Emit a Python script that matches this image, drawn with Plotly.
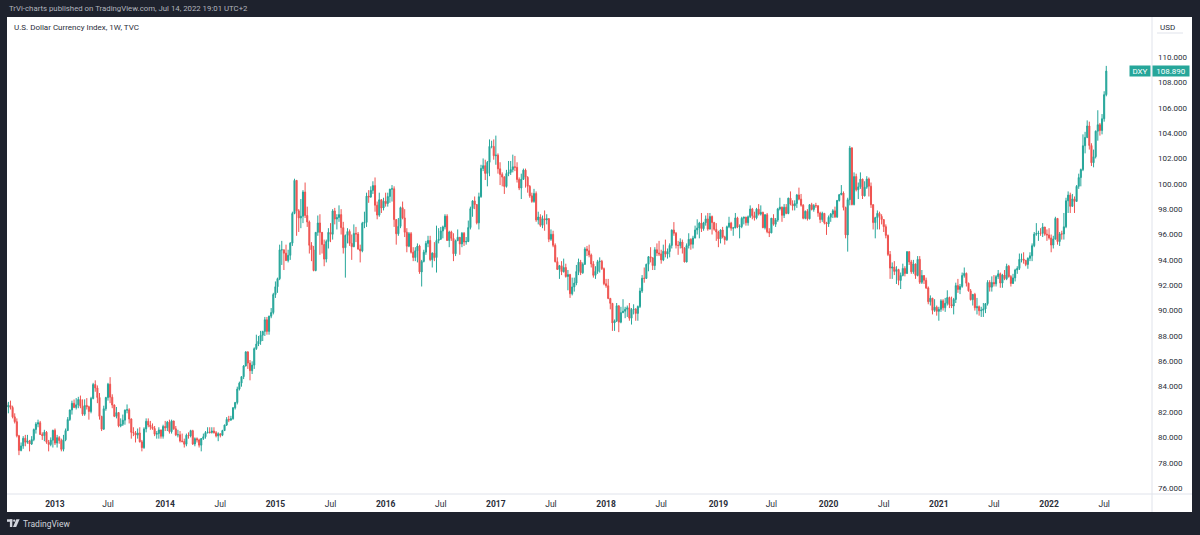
import plotly.graph_objects as go
import pandas as pd

# ---------------- weekly DXY data (Mon-dated weeks) -------------
first_open = 82.70

c2012 = [82.41, 82.52, 82.36, 81.62, 81.24, 80.13, 78.97, 79.33, 79.93, 79.62, 79.73, 79.48, 79.83, 80.62, 81.05, 81.16, 80.23, 80.14, 80.41, 79.62, 79.44, 79.78]
h2012 = [83.20, 82.80, 82.90, 82.50, 81.90, 81.50, 80.20, 79.60, 80.10, 80.20, 80.20, 79.80, 80.10, 80.70, 81.20, 81.40, 81.30, 80.40, 80.60, 80.50, 79.80, 80.00]
l2012 = [82.20, 81.90, 82.20, 81.50, 81.10, 80.00, 78.60, 78.90, 79.10, 79.30, 79.50, 78.90, 79.40, 79.70, 80.30, 80.80, 80.20, 79.80, 79.70, 79.50, 78.90, 79.30]

c2013 = [80.56, 79.55, 79.98, 79.75, 79.06, 79.81, 80.54, 81.41, 82.16, 82.69, 82.36, 82.57, 82.99, 82.46, 81.83, 82.52, 82.42, 82.04, 83.07, 84.17, 83.90, 83.15, 81.66, 80.65, 82.26, 83.14, 84.20, 83.17, 82.55, 81.66, 81.96, 80.91, 81.03, 81.36, 82.15, 82.18, 81.45, 80.40, 80.36, 80.18, 80.35, 79.65, 79.19, 80.67, 81.27, 80.97, 80.84, 80.70, 80.25, 80.30, 80.59, 80.09]
h2013 = [80.60, 80.70, 80.20, 80.10, 79.90, 80.20, 80.70, 81.60, 82.20, 82.90, 82.99, 83.10, 83.20, 83.30, 83.00, 83.00, 83.10, 82.50, 83.20, 84.30, 84.50, 84.10, 83.50, 81.70, 82.50, 83.20, 84.30, 84.75, 83.40, 82.60, 82.40, 82.00, 81.50, 81.80, 82.20, 82.60, 82.30, 81.50, 80.80, 80.50, 80.70, 80.80, 79.80, 80.80, 81.50, 81.50, 81.30, 81.10, 80.90, 80.50, 80.80, 80.60]
l2013 = [79.20, 79.40, 79.20, 79.50, 78.90, 78.90, 79.70, 80.50, 81.30, 81.80, 82.30, 82.20, 82.30, 82.30, 81.70, 81.70, 82.20, 81.40, 81.90, 83.00, 83.60, 82.70, 81.40, 80.50, 80.60, 82.10, 82.90, 82.70, 82.30, 81.60, 81.50, 80.80, 80.80, 80.90, 81.00, 81.90, 81.10, 79.90, 80.10, 79.60, 79.90, 79.60, 78.90, 79.10, 80.40, 80.80, 80.60, 80.60, 80.10, 79.90, 79.90, 79.90]

c2014 = [80.86, 80.76, 81.20, 80.45, 81.30, 80.68, 80.20, 80.21, 79.72, 79.68, 79.46, 80.17, 80.12, 80.53, 79.48, 79.90, 79.80, 79.39, 79.91, 80.05, 80.38, 80.42, 80.39, 80.50, 80.37, 80.12, 80.29, 80.17, 80.54, 80.98, 81.42, 81.37, 81.47, 82.33, 82.75, 83.81, 84.28, 84.79, 85.63, 86.74, 85.86, 85.26, 85.70, 87.00, 87.36, 87.58, 88.06, 88.36, 89.28, 88.36, 89.56, 89.85]
h2014 = [81.00, 81.30, 81.30, 81.40, 81.40, 81.30, 80.90, 80.60, 80.50, 80.30, 79.90, 80.30, 80.40, 80.60, 80.60, 80.00, 80.00, 79.90, 79.95, 80.30, 80.50, 80.80, 80.80, 80.80, 80.80, 80.50, 80.40, 80.30, 80.60, 81.00, 81.60, 81.70, 81.70, 82.40, 82.80, 84.00, 84.40, 84.80, 85.70, 86.80, 86.80, 86.10, 86.00, 87.10, 88.10, 88.00, 88.40, 88.40, 89.50, 89.50, 89.60, 90.20]
l2014 = [79.90, 80.50, 80.50, 80.30, 80.30, 80.60, 80.10, 80.00, 79.60, 79.60, 79.20, 79.30, 79.90, 80.00, 79.40, 79.30, 79.60, 79.20, 78.90, 79.80, 79.90, 80.30, 80.30, 80.30, 80.30, 80.00, 79.70, 80.00, 80.10, 80.50, 80.90, 81.20, 81.30, 81.40, 82.20, 82.60, 83.70, 84.00, 84.60, 85.60, 85.40, 84.50, 85.00, 85.40, 86.90, 87.20, 87.30, 87.60, 88.00, 88.10, 88.10, 89.40]

c2015 = [91.27, 91.88, 92.52, 94.79, 94.80, 94.53, 93.95, 94.36, 95.32, 97.66, 100.27, 97.87, 97.31, 97.44, 99.35, 97.50, 96.99, 95.15, 94.79, 93.16, 96.17, 96.91, 96.17, 95.21, 94.06, 95.45, 96.17, 96.02, 97.86, 97.22, 97.34, 97.57, 96.54, 94.96, 95.93, 96.24, 95.30, 95.04, 96.09, 96.04, 94.85, 94.71, 96.89, 96.96, 99.03, 98.96, 99.48, 99.86, 98.31, 97.53, 98.74, 98.09, 98.63]
h2015 = [91.40, 92.30, 92.60, 95.20, 95.50, 94.80, 95.20, 94.80, 95.40, 97.80, 100.40, 100.30, 98.00, 98.80, 99.50, 100.10, 98.20, 97.10, 95.40, 95.10, 96.20, 97.50, 97.60, 96.20, 95.60, 95.60, 96.50, 96.90, 98.00, 98.10, 97.60, 98.30, 98.00, 97.00, 96.00, 96.50, 96.40, 96.00, 96.80, 96.60, 96.20, 95.20, 97.00, 97.80, 99.30, 99.50, 99.80, 100.20, 100.50, 98.60, 99.30, 98.80, 98.90]
l2015 = [89.70, 91.00, 91.40, 92.40, 93.60, 93.20, 93.90, 93.80, 94.00, 95.10, 97.60, 95.90, 96.20, 96.50, 96.90, 97.30, 96.60, 94.50, 93.90, 93.10, 93.10, 95.90, 94.40, 94.50, 93.50, 93.80, 94.90, 95.40, 95.60, 96.80, 96.40, 97.00, 96.00, 94.50, 92.60, 95.30, 95.10, 94.00, 95.00, 95.40, 94.80, 93.80, 94.60, 96.50, 96.60, 98.50, 98.90, 99.20, 97.80, 97.20, 97.40, 97.70, 97.90]

c2016 = [98.44, 99.00, 99.58, 99.61, 97.18, 96.06, 96.64, 98.12, 97.31, 96.18, 95.08, 96.07, 94.60, 94.19, 94.72, 95.09, 93.05, 93.88, 94.61, 95.30, 95.53, 94.02, 94.53, 94.18, 95.53, 95.62, 96.28, 96.60, 97.45, 95.53, 96.20, 95.70, 94.48, 95.51, 95.78, 95.26, 96.10, 95.41, 95.45, 96.55, 98.04, 98.65, 98.36, 96.92, 98.98, 101.21, 101.43, 100.82, 101.69, 102.95, 102.95, 102.21]
h2016 = [99.30, 99.30, 99.60, 99.90, 99.80, 97.20, 97.30, 98.20, 98.60, 98.00, 96.50, 96.20, 96.20, 95.00, 95.00, 95.30, 95.20, 94.00, 94.80, 95.50, 95.90, 95.90, 94.60, 95.40, 96.70, 96.50, 96.60, 96.70, 97.60, 97.60, 96.30, 96.30, 96.10, 95.60, 96.40, 95.80, 96.20, 96.20, 95.80, 97.10, 98.20, 98.70, 99.00, 98.40, 99.30, 101.50, 102.00, 101.90, 101.80, 103.50, 103.40, 103.50]
l2016 = [98.20, 98.20, 98.50, 98.60, 96.60, 95.20, 95.90, 96.50, 97.20, 95.80, 94.60, 95.00, 94.50, 93.90, 93.90, 93.80, 92.90, 91.90, 93.80, 94.40, 95.00, 93.90, 93.40, 93.90, 93.00, 95.30, 95.60, 95.70, 96.40, 95.50, 95.00, 95.50, 93.90, 94.30, 95.50, 94.40, 95.00, 95.10, 95.20, 95.40, 96.40, 97.40, 98.00, 96.80, 96.40, 98.90, 101.00, 100.30, 99.80, 100.60, 102.80, 101.90]

c2017 = [102.26, 101.18, 100.74, 100.53, 99.79, 100.81, 100.90, 101.12, 101.34, 101.30, 100.34, 99.67, 100.35, 101.08, 100.51, 99.80, 99.05, 98.61, 99.24, 97.15, 97.38, 96.73, 97.25, 97.15, 97.25, 95.63, 96.02, 95.15, 93.86, 93.25, 93.54, 93.07, 93.40, 92.69, 92.84, 91.33, 91.87, 92.17, 93.08, 93.82, 92.98, 93.65, 94.86, 94.72, 94.39, 93.68, 92.78, 93.09, 93.86, 93.89, 93.31, 92.12]
h2017 = [103.80, 102.40, 101.70, 100.90, 100.60, 101.10, 101.80, 101.80, 102.30, 102.20, 101.70, 100.50, 100.80, 101.20, 101.20, 100.60, 99.90, 99.30, 99.60, 99.40, 97.80, 97.60, 97.50, 97.90, 97.60, 97.30, 96.40, 96.30, 95.30, 94.20, 93.60, 93.90, 94.10, 93.70, 93.20, 92.90, 92.60, 92.60, 93.60, 94.10, 94.00, 93.80, 95.00, 95.10, 95.20, 94.50, 93.90, 93.50, 94.00, 94.20, 94.00, 93.40]
l2017 = [101.50, 100.80, 99.90, 99.80, 99.20, 99.70, 100.60, 100.70, 100.90, 101.00, 100.10, 99.50, 98.80, 100.30, 99.70, 99.30, 98.90, 98.50, 98.50, 97.00, 96.80, 96.60, 96.50, 96.30, 96.80, 95.40, 95.50, 95.00, 93.80, 93.20, 92.50, 92.80, 93.00, 92.60, 91.60, 91.00, 91.20, 91.50, 92.00, 92.80, 92.80, 92.90, 93.60, 94.30, 94.20, 93.40, 92.60, 92.50, 92.90, 93.00, 93.20, 92.00]

c2018 = [91.96, 90.96, 90.57, 89.03, 89.19, 90.38, 89.09, 89.84, 89.95, 90.11, 90.22, 89.40, 90.09, 90.11, 89.78, 90.32, 91.55, 92.55, 92.54, 93.65, 94.25, 94.16, 93.55, 94.80, 94.54, 94.47, 94.00, 94.68, 94.45, 94.66, 95.14, 96.35, 96.10, 95.15, 95.14, 95.41, 94.93, 93.84, 95.13, 95.62, 95.23, 95.72, 96.36, 96.52, 96.90, 96.46, 96.93, 97.23, 96.43, 97.42, 96.94, 96.41]
h2018 = [92.50, 92.50, 91.00, 90.60, 89.30, 90.60, 90.40, 90.30, 90.90, 90.30, 90.40, 90.60, 90.20, 90.50, 90.20, 90.40, 91.80, 92.80, 93.40, 93.70, 94.30, 95.00, 94.20, 95.00, 95.30, 95.50, 94.80, 95.20, 95.60, 94.90, 95.30, 96.40, 96.98, 96.20, 95.50, 95.70, 95.60, 95.00, 95.30, 96.10, 95.70, 95.90, 96.70, 97.20, 97.00, 97.70, 97.00, 97.50, 97.70, 97.70, 97.50, 97.00]
l2018 = [91.80, 90.90, 90.10, 88.40, 88.40, 89.10, 88.30, 89.00, 89.80, 89.40, 89.50, 89.20, 88.90, 89.70, 89.20, 89.20, 90.20, 91.40, 92.20, 92.50, 93.10, 93.80, 93.20, 93.20, 94.30, 94.30, 93.70, 93.90, 94.20, 94.10, 94.20, 94.90, 95.90, 94.90, 94.40, 94.90, 94.50, 93.80, 93.80, 94.90, 94.80, 94.90, 95.70, 96.00, 95.70, 96.20, 96.30, 96.70, 96.30, 96.40, 96.00, 96.30]

c2019 = [96.20, 95.66, 96.36, 95.81, 95.58, 96.61, 96.90, 96.50, 96.52, 97.31, 96.60, 96.63, 97.28, 97.37, 96.93, 97.40, 98.01, 97.49, 97.32, 98.00, 97.61, 97.75, 96.54, 97.56, 96.22, 96.13, 97.29, 96.81, 97.14, 98.02, 98.16, 97.51, 98.15, 97.66, 98.87, 98.40, 98.26, 98.44, 99.12, 98.79, 98.31, 97.28, 97.83, 97.24, 98.35, 97.98, 98.28, 98.27, 97.70, 97.18, 97.67, 96.92]
h2019 = [96.90, 96.30, 96.40, 96.60, 95.90, 96.70, 97.40, 97.00, 96.60, 97.70, 97.40, 96.80, 97.40, 97.40, 97.40, 97.50, 98.30, 98.10, 97.80, 98.10, 98.40, 98.30, 97.80, 97.60, 97.70, 96.50, 97.30, 97.60, 97.30, 98.10, 98.90, 98.20, 98.40, 98.40, 98.90, 99.40, 98.70, 98.70, 99.20, 99.70, 99.20, 98.40, 97.90, 98.00, 98.40, 98.50, 98.40, 98.50, 98.30, 97.80, 97.80, 97.70]
l2019 = [95.50, 95.00, 95.30, 95.70, 95.20, 95.50, 96.50, 96.30, 95.90, 96.50, 96.50, 95.70, 96.50, 96.80, 96.70, 96.70, 97.30, 97.20, 97.10, 97.20, 97.50, 97.50, 96.50, 96.40, 96.10, 95.80, 96.10, 96.70, 96.60, 97.00, 97.90, 97.00, 97.30, 97.60, 97.60, 98.30, 97.90, 97.90, 98.10, 98.70, 98.20, 97.20, 97.20, 97.10, 97.20, 97.90, 97.80, 98.10, 97.40, 96.90, 97.00, 96.80]

c2020 = [96.84, 97.36, 97.61, 97.87, 97.39, 98.69, 99.14, 99.27, 98.13, 95.97, 98.75, 102.82, 98.36, 100.57, 99.53, 99.76, 100.37, 99.05, 99.73, 100.38, 99.81, 98.35, 96.94, 97.33, 97.67, 97.43, 97.18, 96.62, 95.93, 94.43, 93.35, 93.43, 93.09, 93.24, 92.38, 92.77, 93.33, 92.93, 94.64, 93.84, 93.06, 93.68, 92.77, 94.04, 92.23, 92.76, 92.39, 91.79, 90.70, 90.98, 90.02, 90.27, 89.94]
h2020 = [97.00, 97.50, 97.70, 98.00, 98.20, 98.70, 99.20, 99.90, 99.40, 98.20, 98.90, 102.99, 102.90, 100.90, 100.80, 100.10, 100.90, 100.40, 100.20, 100.60, 100.50, 100.10, 98.40, 97.40, 97.90, 97.80, 97.60, 97.20, 96.80, 96.00, 94.70, 93.80, 93.90, 93.50, 93.30, 93.00, 93.70, 93.50, 94.70, 94.70, 94.00, 94.00, 93.70, 94.30, 94.30, 93.20, 92.80, 92.60, 91.90, 91.20, 91.00, 90.90, 90.40]
l2020 = [95.97, 96.60, 97.00, 97.30, 97.30, 97.30, 98.60, 99.10, 97.90, 95.70, 94.65, 98.30, 98.30, 98.30, 99.40, 98.80, 99.60, 98.80, 99.00, 99.60, 99.00, 98.10, 96.40, 95.70, 96.40, 96.40, 96.80, 96.20, 95.70, 94.30, 92.50, 92.50, 92.80, 92.10, 92.00, 91.70, 92.70, 92.70, 92.90, 93.60, 92.90, 92.90, 92.50, 92.70, 92.10, 92.10, 92.10, 91.70, 90.50, 90.40, 89.70, 89.90, 89.60]

c2021 = [90.10, 90.77, 90.22, 90.58, 91.03, 90.48, 90.36, 90.88, 91.97, 91.67, 91.91, 92.77, 92.94, 92.16, 91.56, 90.86, 91.28, 90.22, 90.31, 89.99, 90.03, 90.13, 90.55, 92.23, 91.85, 92.22, 92.11, 92.68, 92.90, 92.17, 92.80, 92.52, 93.50, 92.68, 92.14, 92.58, 93.20, 93.33, 94.04, 94.07, 93.96, 93.64, 94.12, 94.32, 95.12, 96.03, 96.07, 96.12, 96.10, 96.59, 96.03, 95.97]
h2021 = [90.30, 90.90, 90.90, 91.00, 91.60, 91.10, 91.10, 91.00, 92.20, 92.50, 92.10, 93.00, 93.40, 93.00, 92.20, 91.70, 91.30, 91.40, 91.00, 90.40, 90.30, 90.60, 90.60, 92.40, 92.40, 92.70, 92.80, 92.80, 93.20, 93.00, 92.90, 93.20, 93.70, 93.60, 92.80, 92.90, 93.30, 93.50, 94.50, 94.50, 94.60, 94.00, 94.20, 94.60, 95.30, 96.20, 96.90, 96.30, 96.50, 96.90, 96.60, 96.40]
l2021 = [89.20, 89.90, 90.00, 89.90, 90.40, 90.20, 90.20, 89.70, 90.60, 91.40, 91.30, 91.80, 92.60, 91.90, 91.50, 90.80, 90.40, 90.00, 89.70, 89.60, 89.50, 89.50, 89.80, 90.40, 91.50, 91.50, 91.90, 91.90, 92.50, 91.80, 91.80, 92.40, 92.40, 92.60, 91.90, 92.10, 92.30, 92.90, 93.20, 93.80, 93.70, 93.50, 93.30, 93.90, 93.90, 95.00, 95.90, 95.50, 95.90, 95.80, 95.90, 95.50]

c2022 = [95.73, 95.17, 95.64, 97.27, 95.44, 96.05, 96.04, 96.61, 98.66, 99.11, 98.22, 98.81, 98.61, 99.80, 100.49, 101.12, 103.00, 103.66, 104.56, 103.02, 101.66, 102.14, 104.15, 104.66, 104.20, 105.13, 107.03, 108.89]
h2022 = [96.50, 96.00, 95.90, 97.40, 97.30, 96.20, 96.30, 97.70, 98.90, 99.40, 99.30, 99.20, 99.00, 99.90, 100.80, 101.20, 103.90, 104.10, 105.00, 104.90, 103.20, 102.70, 104.20, 105.80, 104.80, 105.50, 107.30, 109.30]
l2022 = [95.60, 94.60, 94.90, 95.60, 95.20, 95.10, 95.60, 95.60, 96.50, 97.70, 97.70, 98.20, 97.70, 98.60, 99.60, 99.80, 101.00, 102.40, 103.60, 102.70, 101.40, 101.30, 102.00, 103.40, 103.80, 103.90, 104.90, 106.90]

year_tick_dates = ["2013-01-07", "2014-01-06", "2015-01-05", "2016-01-04", "2017-01-02",
                   "2018-01-01", "2019-01-07", "2020-01-06", "2021-01-04", "2022-01-03"]
year_tick_text = ["2013", "2014", "2015", "2016", "2017", "2018", "2019", "2020", "2021", "2022"]
jul_tick_dates = ["2013-07-01", "2014-07-07", "2015-07-06", "2016-07-04", "2017-07-03",
                  "2018-07-02", "2019-07-01", "2020-07-06", "2021-07-05", "2022-07-04"]
price_ticks = [76, 78, 80, 82, 84, 86, 88, 90, 92, 94, 96, 98, 100, 102, 104, 106, 108, 110]
last_price = 108.89

# ---------------- assemble ----------------
closes = c2012 + c2013 + c2014 + c2015 + c2016 + c2017 + c2018 + c2019 + c2020 + c2021 + c2022
highs = h2012 + h2013 + h2014 + h2015 + h2016 + h2017 + h2018 + h2019 + h2020 + h2021 + h2022
lows = l2012 + l2013 + l2014 + l2015 + l2016 + l2017 + l2018 + l2019 + l2020 + l2021 + l2022
opens = [first_open] + closes[:-1]   # weekly open = prior week's close
dates = pd.date_range("2012-07-30", periods=len(closes), freq="7D")

UP = "#26a69a"
DOWN = "#ef5350"
DARK = "#1e222d"
TXT = "#131722"
AXT = "#2a2e39"
SEP = "#e0e3eb"
FONT = "Roboto"

W, H = 1200, 535
L, R, T, B = 7, 48, 17, 41
PW, PH = W - L - R, H - T - B


def px(x):
    return (x - L) / PW


def py(y):
    return (H - B - y) / PH


fig = go.Figure()
fig.add_trace(go.Candlestick(
    x=dates, open=opens, high=highs, low=lows, close=closes,
    increasing=dict(line=dict(color=UP, width=1), fillcolor=UP),
    decreasing=dict(line=dict(color=DOWN, width=1), fillcolor=DOWN),
    whiskerwidth=0, hoverinfo="skip", name="DXY",
))

tickvals = year_tick_dates + jul_tick_dates
ticktext = ["<b>%s</b>" % t for t in year_tick_text] + ["Jul"] * len(jul_tick_dates)

LOGO = "#d1d4dc"
shapes = [
    # white chart panel
    dict(type="rect", xref="paper", yref="paper", x0=px(7), x1=px(1192), y0=py(512), y1=py(17),
         fillcolor="white", line=dict(width=0), layer="below"),
    # price-axis separator
    dict(type="line", xref="paper", yref="paper", x0=px(1152), x1=px(1152), y0=py(512), y1=py(17),
         line=dict(color=SEP, width=1)),
    # time-axis separator
    dict(type="line", xref="paper", yref="paper", x0=px(7), x1=px(1192), y0=py(494), y1=py(494),
         line=dict(color=SEP, width=1)),
    # underline under currency label
    dict(type="line", xref="paper", yref="paper", x0=px(1157), x1=px(1183), y0=py(33), y1=py(33),
         line=dict(color=SEP, width=1)),
    # TradingView logo glyph
    dict(type="rect", xref="paper", yref="paper", x0=px(7), x1=px(12.3), y0=py(521.8), y1=py(519.3),
         fillcolor=LOGO, line=dict(width=0)),
    dict(type="rect", xref="paper", yref="paper", x0=px(9.9), x1=px(12.3), y0=py(527), y1=py(519.3),
         fillcolor=LOGO, line=dict(width=0)),
    dict(type="circle", xref="paper", yref="paper", x0=px(13.1), x1=px(15.3), y0=py(521.8), y1=py(519.6),
         fillcolor=LOGO, line=dict(width=0)),
    dict(type="path", xref="paper", yref="paper",
         path="M %f %f L %f %f L %f %f L %f %f Z" % (px(16.3), py(519.3), px(19.6), py(519.3),
                                                     px(16.2), py(527), px(13.0), py(527)),
         fillcolor=LOGO, line=dict(width=0)),
]

annotations = [
    dict(xref="paper", yref="paper", x=px(7), y=py(9), xanchor="left", yanchor="middle",
         text="TrVi-charts published on TradingView.com, Jul 14, 2022 19:01 UTC+2",
         showarrow=False, font=dict(family=FONT, size=7.8, color="#b2b5be")),
    dict(xref="paper", yref="paper", x=px(12), y=py(27), xanchor="left", yanchor="middle",
         text="U.S. Dollar Currency Index, 1W, TVC",
         showarrow=False, font=dict(family=FONT, size=8, color=AXT)),
    dict(xref="paper", yref="paper", x=px(1158), y=py(27), xanchor="left", yanchor="middle",
         text="USD", showarrow=False, font=dict(family=FONT, size=8, color=AXT)),
    dict(xref="paper", yref="paper", x=px(21), y=py(523.5), xanchor="left", yanchor="middle",
         text="TradingView", showarrow=False, font=dict(family=FONT, size=8.5, color=LOGO)),
    dict(xref="paper", yref="y", x=px(1151), y=last_price, xanchor="right", yanchor="middle",
         text="DXY", showarrow=False, bgcolor=UP, borderpad=1, width=18, height=8,
         font=dict(family=FONT, size=8, color="white")),
    dict(xref="paper", yref="y", x=px(1152), y=last_price, xanchor="left", yanchor="middle",
         text="%.3f" % last_price, showarrow=False, bgcolor=UP, borderpad=1, width=34, height=8,
         font=dict(family=FONT, size=8, color="white")),
]

fig.update_layout(
    width=W, height=H,
    margin=dict(l=L, r=R, t=T, b=B, pad=0),
    paper_bgcolor=DARK, plot_bgcolor="white",
    showlegend=False, hovermode=False,
    font=dict(family=FONT, color=AXT),
    shapes=shapes, annotations=annotations,
    xaxis=dict(type="date", range=["2012-08-01 12:00", "2022-12-09"],
               tickvals=tickvals, ticktext=ticktext, tickangle=0,
               showgrid=False, zeroline=False, showline=False, ticks="",
               tickfont=dict(family=FONT, size=8.5, color=AXT),
               rangeslider=dict(visible=False), fixedrange=True, ticklabelstandoff=3),
    yaxis=dict(side="right", range=[75.536, 113.155],
               tickvals=price_ticks, ticktext=["%.3f" % v for v in price_ticks],
               showgrid=False, zeroline=False, showline=False, ticks="",
               tickfont=dict(family=FONT, size=8, color=AXT),
               fixedrange=True, ticklabelstandoff=5),
)

fig.write_html(
    "out.html",
    config={"displayModeBar": False, "staticPlot": True},
    post_script="document.body.style.margin='0';document.body.style.padding='0';"
                "document.body.style.background='%s';" % DARK,
)
